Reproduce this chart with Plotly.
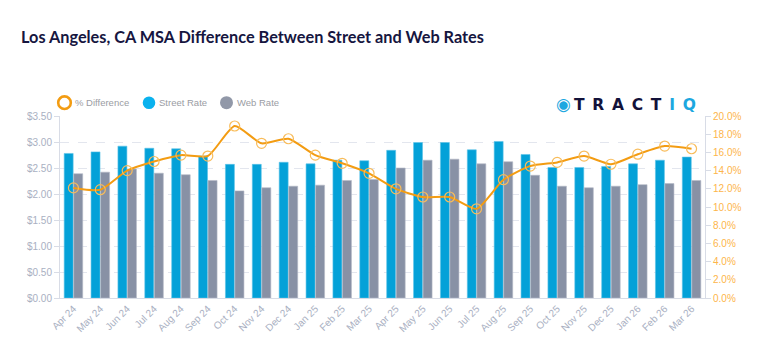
import plotly.graph_objects as go

months = ["Apr 24", "May 24", "Jun 24", "Jul 24", "Aug 24", "Sep 24", "Oct 24", "Nov 24",
          "Dec 24", "Jan 25", "Feb 25", "Mar 25", "Apr 25", "May 25", "Jun 25", "Jul 25",
          "Aug 25", "Sep 25", "Oct 25", "Nov 25", "Dec 25", "Jan 26", "Feb 26", "Mar 26"]
street_rate = [2.78, 2.81, 2.92, 2.88, 2.87, 2.73, 2.57, 2.57, 2.61, 2.58, 2.65, 2.64,
               2.84, 2.99, 2.99, 2.85, 3.01, 2.76, 2.51, 2.51, 2.53, 2.58, 2.65, 2.71]
web_rate = [2.39, 2.42, 2.48, 2.40, 2.37, 2.26, 2.06, 2.12, 2.15, 2.17, 2.26, 2.28,
            2.50, 2.65, 2.67, 2.58, 2.62, 2.36, 2.15, 2.12, 2.15, 2.18, 2.20, 2.26]
pct_diff = [12.1, 11.9, 14.0, 15.0, 15.7, 15.6, 18.9, 17.0, 17.5, 15.7, 14.8, 13.7,
            12.0, 11.1, 11.1, 9.8, 13.0, 14.5, 14.9, 15.6, 14.7, 15.8, 16.7, 16.4]
left_ticks = [0, 0.5, 1.0, 1.5, 2.0, 2.5, 3.0, 3.5]
left_labels = ["$0.00", "$0.50", "$1.00", "$1.50", "$2.00", "$2.50", "$3.00", "$3.50"]
right_ticks = [0, 2, 4, 6, 8, 10, 12, 14, 16, 18, 20]
right_labels = ["0.0%", "2.0%", "4.0%", "6.0%", "8.0%", "10.0%", "12.0%", "14.0%",
                "16.0%", "18.0%", "20.0%"]
legend_names = ["% Difference", "Street Rate", "Web Rate"]

STREET = "#04A1D8"
WEB = "#8891A5"
ORANGE = "#F39C12"
ORANGE_LIGHT = "#F8BC5A"
GRID = "#E3E6EE"
AXIS_TXT = "#A9B0C2"
LEG_TXT = "#9A9CA3"

W, H = 768, 356
ML, MR, MT, MB = 60, 63, 116, 58
PW, PH = W - ML - MR, H - MT - MB


def px(x):
    return (x - ML) / PW


def py(y):
    return (H - MB - y) / PH


fig = go.Figure()
fig.add_trace(go.Bar(x=months, y=street_rate, name="Street Rate",
                     marker=dict(color=STREET, line=dict(color="#5CC3E8", width=0.6))))
fig.add_trace(go.Bar(x=months, y=web_rate, name="Web Rate",
                     marker=dict(color=WEB, line=dict(color="#B3B9C6", width=0.6))))
fig.add_trace(go.Scatter(x=months, y=pct_diff, yaxis="y2", name="% Difference",
                         mode="lines+markers",
                         line=dict(color=ORANGE, width=2, shape="spline", smoothing=0.6),
                         marker=dict(symbol="circle-open", size=10, color=ORANGE_LIGHT,
                                     line=dict(width=1.2, color=ORANGE_LIGHT))))

fig.update_layout(
    width=W, height=H,
    margin=dict(l=ML, r=MR, t=MT, b=MB, autoexpand=False),
    paper_bgcolor="white", plot_bgcolor="white",
    barmode="group", bargap=0.29, bargroupgap=0.06,
    font=dict(family="Liberation Sans, Arial", size=10, color=AXIS_TXT),
    title=dict(text="<b>Los Angeles, CA MSA Difference Between Street and Web Rates</b>",
               x=21 / W, xanchor="left", xref="container", y=1 - 37 / H, yanchor="middle",
               yref="container",
               font=dict(family="Lato", size=16.3, color="#16163F")),
    showlegend=False,
    xaxis=dict(type="category", range=[-0.5, len(months) - 0.5], tickangle=-45,
               showgrid=False, showline=True, automargin=False,
               linecolor="#D8DCE6", linewidth=1, ticks="", tickfont=dict(size=10, color=AXIS_TXT)),
    yaxis=dict(range=[0, 3.5], tickvals=left_ticks, ticktext=left_labels,
               automargin=False,
               showgrid=True, gridcolor=GRID, griddash="dash", gridwidth=1,
               showline=True, linecolor="#D8DCE6", ticks="outside", ticklen=5,
               tickcolor="#D8DCE6", zeroline=False, tickfont=dict(size=10, color=AXIS_TXT)),
    yaxis2=dict(range=[0, 20], tickvals=right_ticks, ticktext=right_labels,
                automargin=False,
                overlaying="y", side="right", showgrid=False, showline=True,
                linecolor="#D8DCE6", ticks="outside", ticklen=5, tickcolor="#D8DCE6",
                zeroline=False, tickfont=dict(size=10, color="#FDB54A")),
)

# manual legend (symbol close to its text, like the reference)
leg_y = py(102.7)
fig.add_shape(type="circle", xref="paper", yref="paper", xsizemode="pixel", ysizemode="pixel",
              xanchor=px(64.5), yanchor=leg_y, x0=-6.3, x1=6.3, y0=-6.3, y1=6.3,
              line=dict(color=ORANGE, width=2.6), fillcolor="rgba(0,0,0,0)")
fig.add_shape(type="circle", xref="paper", yref="paper", xsizemode="pixel", ysizemode="pixel",
              xanchor=px(149), yanchor=leg_y, x0=-6.3, x1=6.3, y0=-6.3, y1=6.3,
              line=dict(width=0), fillcolor="#0AB2EE")
fig.add_shape(type="circle", xref="paper", yref="paper", xsizemode="pixel", ysizemode="pixel",
              xanchor=px(226.5), yanchor=leg_y, x0=-6.5, x1=6.5, y0=-6.5, y1=6.5,
              line=dict(width=0), fillcolor="#9198A8")
for name, x0 in zip(legend_names, [73, 157, 235]):
    fig.add_annotation(xref="paper", yref="paper", x=px(x0), y=leg_y, xanchor="left",
                       yanchor="middle", showarrow=False, text=name,
                       font=dict(size=9.5, color=LEG_TXT))

# logo
sp = "\u2002"
fig.add_annotation(xref="paper", yref="paper", x=px(698), y=py(103.5),
                   xanchor="right", yanchor="middle", showarrow=False,
                   text='<span style="color:#1CA7E0;font-size:17px">◉</span>\u2009'
                        '<b>' + sp.join("TRACT") + sp +
                        '<span style="color:#1CA7E0">' + sp.join("IQ") + '</span></b>',
                   font=dict(family="DejaVu Sans", size=15.5, color="#12123A"))

fig.write_html("out.html", config={"displayModeBar": False},
               post_script="document.body.style.margin='0px';")
